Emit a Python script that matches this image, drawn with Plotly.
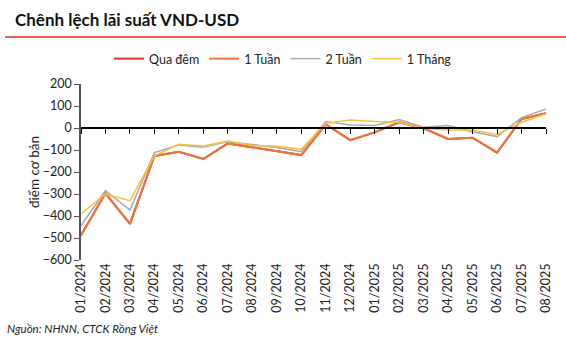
import plotly.graph_objects as go

categories = ["01/2024", "02/2024", "03/2024", "04/2024", "05/2024", "06/2024", "07/2024",
              "08/2024", "09/2024", "10/2024", "11/2024", "12/2024", "01/2025", "02/2025",
              "03/2025", "04/2025", "05/2025", "06/2025", "07/2025", "08/2025"]

qua_dem = [-488, -297, -436, -127, -108, -141, -70, -88, -105, -123, 17, -55, -20, 26,
           -1, -50, -44, -112, 41, 67]
tuan_1 = [-488, -297, -436, -127, -108, -141, -70, -88, -105, -123, 17, -55, -20, 26,
          -1, -50, -44, -112, 41, 67]
tuan_2 = [-444, -285, -373, -112, -77, -88, -62, -77, -89, -108, 29, 14, 11, 39,
          3, 11, -17, -39, 47, 86]
thang_1 = [-391, -300, -330, -127, -74, -82, -59, -80, -82, -97, 21, 36, 29, 26,
           -1, -9, -9, -29, 26, 64]

y_ticks = [-600, -500, -400, -300, -200, -100, 0, 100, 200]

series = [
    ("Qua đêm", qua_dem, "#E0312B", 2),
    ("1 Tuần", tuan_1, "#E8773C", 2),
    ("2 Tuần", tuan_2, "#A9A9A9", 1.5),
    ("1 Tháng", thang_1, "#F7C23A", 1.5),
]

FONT = "Lato"
fig = go.Figure()
for name, vals, color, w in series:
    fig.add_trace(go.Scatter(x=categories, y=vals, name=name, mode="lines",
                             line=dict(color=color, width=w)))

# helper trace on the overlay axis that draws tick marks at zero
fig.add_trace(go.Scatter(x=categories, y=[None] * len(categories), xaxis="x2",
                         showlegend=False, hoverinfo="skip", mode="lines"))

ymin, ymax = y_ticks[0], y_ticks[-1]
zero_pos = (0 - ymin) / (ymax - ymin)

fig.update_layout(
    width=566, height=346,
    margin=dict(l=81, r=20, t=84, b=86, autoexpand=False),
    paper_bgcolor="white", plot_bgcolor="white",
    font=dict(family=FONT, size=12.5, color="#222"),
    showlegend=True,
    legend=dict(orientation="h", xref="container", yref="container",
                x=0.5, y=1 - 59 / 346, xanchor="center", yanchor="middle",
                font=dict(size=12.5, color="#222"), itemwidth=30,
                bgcolor="rgba(0,0,0,0)"),
    xaxis=dict(type="category", range=[0, len(categories) - 1], tickangle=-90,
               showline=False, ticks="", showgrid=False, zeroline=False,
               tickfont=dict(size=12.5, color="#222")),
    xaxis2=dict(type="category", overlaying="x", anchor="free", position=zero_pos,
                range=[0, len(categories) - 1], showline=True, linecolor="black",
                linewidth=1.5, ticks="outside", ticklen=5, tickcolor="black",
                tickwidth=1, showticklabels=False, showgrid=False, matches="x"),
    yaxis=dict(range=[ymin, ymax], tickvals=y_ticks, showline=True, linecolor="#555",
               linewidth=1.5, ticks="outside", ticklen=5, tickcolor="#555",
               showgrid=False, zeroline=False,
               title=dict(text="điểm cơ bản", font=dict(size=13.5, color="#222"), standoff=0),
               tickfont=dict(size=12.5, color="#222")),
    annotations=[
        dict(text="<b>Chênh lệch lãi suất VND-USD</b>", xref="paper", yref="paper",
             x=-68 / 465, y=1 + (84 - 20) / 176, xanchor="left", yanchor="middle",
             showarrow=False, font=dict(size=17, color="#111", family=FONT)),
        dict(text="<i>Nguồn: NHNN, CTCK Rồng Việt</i>", xref="paper", yref="paper",
             x=-76 / 465, y=-(328 - 260) / 176, xanchor="left", yanchor="middle",
             showarrow=False, font=dict(size=11.5, color="#222", family=FONT)),
    ],
    shapes=[
        dict(type="line", xref="paper", yref="paper", x0=-76 / 465, x1=1 + 20 / 465,
             y0=1 + (84 - 37) / 176, y1=1 + (84 - 37) / 176,
             line=dict(color="#E8605A", width=2)),
    ],
)

fig.write_html("out.html")
